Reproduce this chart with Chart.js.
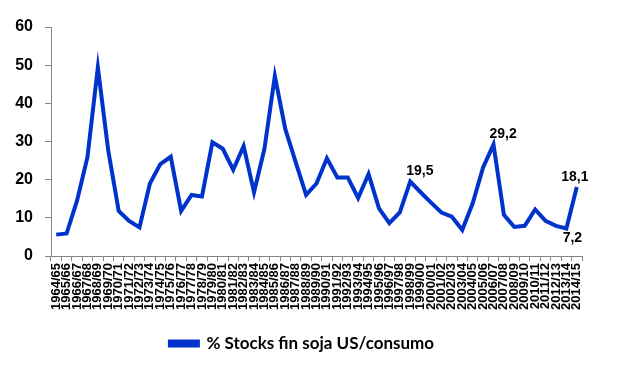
<!DOCTYPE html>
<html>
<head>
<meta charset="utf-8">
<script src="https://cdn.jsdelivr.net/npm/chart.js@4.4.1/dist/chart.umd.min.js"></script>
<style>
  html, body { margin: 0; padding: 0; background: #fff; }
  #wrap { width: 619px; height: 366px; }
</style>
</head>
<body>
<div id="wrap"><canvas id="c" width="619" height="366"></canvas></div>
<script>
// --- Data ---
const seasons = [
  '1964/65','1965/66','1966/67','1967/68','1968/69','1969/70','1970/71','1971/72','1972/73','1973/74',
  '1974/75','1975/76','1976/77','1977/78','1978/79','1979/80','1980/81','1981/82','1982/83','1983/84',
  '1984/85','1985/86','1986/87','1987/88','1988/89','1989/90','1990/91','1991/92','1992/93','1993/94',
  '1994/95','1995/96','1996/97','1997/98','1998/99','1999/00','2000/01','2001/02','2002/03','2003/04',
  '2004/05','2005/06','2006/07','2007/08','2008/09','2009/10','2010/11','2011/12','2012/13','2013/14',
  '2014/15'
];
const stocksPct = [
  5.6, 5.9, 14.5, 25.9, 49.4, 27.6, 11.8, 9.2, 7.5, 19.0,
  24.1, 26.0, 11.8, 16.0, 15.6, 29.8, 28.1, 22.6, 28.8, 16.7,
  28.1, 47.2, 33.3, 24.6, 16.0, 19.0, 25.6, 20.6, 20.6, 15.2,
  21.5, 12.5, 8.6, 11.4, 19.5, 16.7, 14.0, 11.4, 10.3, 6.8,
  13.8, 23.2, 29.2, 10.8, 7.6, 7.9, 12.2, 9.2, 7.9, 7.2,
  18.1
];
const yTicks = [0, 10, 20, 30, 40, 50, 60];
const labelledIdx = [34, 42, 49, 50];
const labelledSide = ['above', 'above', 'below', 'above'];

const blue = '#0033CC';
const tickFont = { family: '"Liberation Sans", Arial, sans-serif', weight: 'bold' };

// --- Value labels ---
const valueLabels = {
  id: 'valueLabels',
  afterLayout(chart) {
    // legend sits a bit right of centre in the original
    chart.legend.left += 11; chart.legend.right += 11;
  },
  afterDatasetsDraw(chart) {
    const ctx = chart.ctx;
    const pts = chart.getDatasetMeta(0).data;
    ctx.save();
    ctx.font = 'bold 14px "Liberation Sans", Arial, sans-serif';
    ctx.fillStyle = '#000';
    labelledIdx.forEach((i, k) => {
      const p = pts[i];
      const txt = stocksPct[i].toFixed(1).replace('.', ',');
      const last = i === seasons.length - 1;
      if (labelledSide[k] === 'below') {
        ctx.textAlign = 'center'; ctx.textBaseline = 'top';
        ctx.fillText(txt, p.x + 6, p.y + 3);
      } else {
        ctx.textAlign = last ? 'center' : 'left'; ctx.textBaseline = 'bottom';
        ctx.fillText(txt, last ? p.x - 2 : p.x - 4, p.y - 3);
      }
    });
    ctx.restore();
  }
};

// --- Chart ---
new Chart(document.getElementById('c'), {
  type: 'line',
  data: {
    labels: seasons,
    datasets: [{
      label: '% Stocks fin soja US/consumo',
      data: stocksPct,
      borderColor: blue,
      backgroundColor: blue,
      borderWidth: 4,
      pointRadius: 0,
      tension: 0,
      fill: false
    }]
  },
  options: {
    responsive: false,
    animation: false,
    layout: { padding: { top: 27, right: 37, left: 0, bottom: 4 } },
    plugins: {
      legend: {
        position: 'bottom',
        labels: {
          boxWidth: 28, boxHeight: 4, padding: 10, color: '#000',
          font: { family: 'Lato, "Open Sans", sans-serif', size: 17, weight: 'bold' }
        }
      },
      tooltip: { enabled: false }
    },
    scales: {
      x: {
        offset: true,
        grid: { display: true, drawOnChartArea: false, offset: true, tickLength: 5, color: '#868686' },
        border: { color: '#868686' },
        ticks: { autoSkip: false, minRotation: 90, maxRotation: 90, padding: 2, color: '#000', font: { ...tickFont, size: 13 } },
        afterFit(s) { s.height = 69; }
      },
      y: {
        min: 0, max: 60,
        afterBuildTicks(s) { s.ticks = yTicks.map(v => ({ value: v })); },
        grid: { display: true, drawOnChartArea: false, tickLength: 6, color: '#868686' },
        border: { color: '#868686' },
        ticks: { padding: 12, color: '#000', font: { ...tickFont, size: 16 } },
        afterFit(s) { s.width = 51; }
      }
    }
  },
  plugins: [valueLabels]
});
</script>
</body>
</html>
